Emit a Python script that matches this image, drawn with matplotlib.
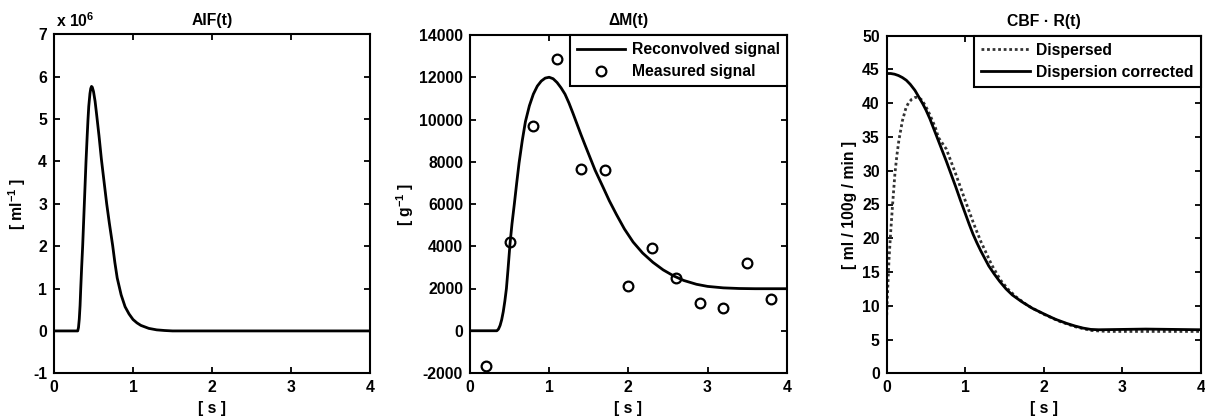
import matplotlib
matplotlib.use("Agg")
import matplotlib.pyplot as plt

plt.rcParams['font.family'] = ['Liberation Sans', 'DejaVu Sans']
plt.rcParams['font.weight'] = 'bold'
plt.rcParams['font.size'] = 11.3
plt.rcParams['axes.unicode_minus'] = False
plt.rcParams['mathtext.fontset'] = 'custom'
plt.rcParams['mathtext.rm'] = 'Liberation Sans:bold'
plt.rcParams['mathtext.bf'] = 'Liberation Sans:bold'
plt.rcParams['mathtext.it'] = 'Liberation Sans:bold'
plt.rcParams['mathtext.default'] = 'rm'

FS = 11.3

# --- Arterial input function (units of 1e6 per ml) ---
aif_t = [0.0, 0.30, 0.31, 0.32, 0.33, 0.338, 0.35, 0.363, 0.384, 0.405, 0.42,
         0.43, 0.44, 0.455, 0.465, 0.475, 0.485, 0.50, 0.52, 0.54, 0.57, 0.60,
         0.635, 0.667, 0.70, 0.743, 0.77, 0.80, 0.85, 0.90, 0.95, 1.0, 1.05,
         1.1, 1.2, 1.3, 1.4, 1.5, 4.0]
aif_e6 = [0.0, 0.0, 0.08, 0.28, 0.6, 0.98, 1.5, 2.01, 3.0, 3.99, 4.6,
          4.98, 5.3, 5.6, 5.72, 5.77, 5.75, 5.65, 5.42, 5.1, 4.6, 4.05,
          3.5, 3.0, 2.55, 2.01, 1.62, 1.25, 0.85, 0.57, 0.40, 0.27, 0.19,
          0.13, 0.06, 0.025, 0.01, 0.0, 0.0]

# --- Tissue signal ---
dm_t = [0.0, 0.34, 0.36, 0.38, 0.40, 0.42, 0.44, 0.46, 0.48, 0.505, 0.53, 0.56,
        0.59, 0.62, 0.66, 0.70, 0.75, 0.80, 0.85, 0.90, 0.95, 1.0, 1.05, 1.1,
        1.15, 1.2, 1.25, 1.3, 1.35, 1.4, 1.45, 1.5, 1.58, 1.68, 1.76, 1.85,
        1.95, 2.06, 2.18, 2.31, 2.44, 2.57, 2.7, 2.86, 3.0, 3.2, 3.4, 3.6, 4.0]
dm_fit = [0, 0, 80, 250, 520, 900, 1400, 2000, 2900, 4100, 5050, 6000,
          7000, 7950, 9000, 9900, 10650, 11200, 11580, 11820, 11960, 12000,
          11930, 11750, 11500, 11200, 10780, 10300, 9800, 9300, 8820, 8350,
          7600, 6800, 6150, 5500, 4820, 4200, 3680, 3240, 2880, 2600, 2380,
          2200, 2100, 2030, 2000, 1990, 1990]
meas_t = [0.2, 0.5, 0.8, 1.1, 1.4, 1.7, 2.0, 2.3, 2.6, 2.9, 3.2, 3.5, 3.8]
meas_val = [-1650, 4200, 9700, 12850, 7680, 7600, 2100, 3940, 2500, 1330, 1060,
            3230, 1500]

# --- Scaled residue functions ---
disp_t = [0.0, 0.007, 0.015, 0.03, 0.05, 0.075, 0.105, 0.13, 0.155, 0.2, 0.245,
          0.28, 0.32, 0.36, 0.40, 0.445, 0.49, 0.55, 0.62, 0.66, 0.76, 0.88,
          1.0, 1.11, 1.2, 1.34, 1.45, 1.55, 1.65, 1.8, 2.0, 2.2, 2.4, 2.6, 2.8,
          3.0, 4.0]
disp_val = [8.6, 11.0, 13.0, 17.0, 20.8, 25.0, 29.6, 32.3, 34.5, 37.4, 39.3,
            40.1, 40.6, 40.85, 40.9, 40.5, 39.7, 38.3, 36.4, 34.9, 33.2, 29.5,
            25.6, 22.1, 19.5, 16.0, 13.8, 12.4, 11.3, 10.0, 8.75, 7.7, 6.9,
            6.35, 6.2, 6.2, 6.2]
corr_t = [0.0, 0.05, 0.1, 0.15, 0.2, 0.25, 0.3, 0.36, 0.415, 0.46, 0.5, 0.55,
          0.6, 0.65, 0.7, 0.76, 0.82, 0.88, 0.94, 1.0, 1.05, 1.1, 1.15, 1.2,
          1.3, 1.37, 1.44, 1.52, 1.6, 1.72, 1.86, 2.02, 2.15, 2.29, 2.4, 2.5,
          2.6, 2.7, 3.0, 3.3, 4.0]
corr_val = [44.4, 44.4, 44.3, 44.1, 43.8, 43.4, 42.8, 41.9, 40.8, 39.9, 39.0,
            37.7, 36.2, 34.7, 33.2, 31.4, 29.5, 27.6, 25.6, 23.7, 22.1, 20.6,
            19.3, 18.1, 15.9, 14.7, 13.6, 12.5, 11.6, 10.6, 9.6, 8.7, 8.0, 7.4,
            7.0, 6.7, 6.5, 6.45, 6.5, 6.55, 6.45]

W, H = 1205, 417
fig = plt.figure(figsize=(W / 100, H / 100), dpi=100)


def make_axes(left, right, top, bottom):
    return fig.add_axes([left / W, 1 - bottom / H, (right - left) / W,
                         (bottom - top) / H])


def style(ax):
    for s in ax.spines.values():
        s.set_linewidth(1.5)
    ax.tick_params(direction='in', length=4, width=1.3, top=True, right=True,
                   labelsize=FS, pad=5)
    for lab in ax.get_xticklabels() + ax.get_yticklabels():
        lab.set_fontweight('bold')


def add_legend(ax):
    leg = ax.legend(loc='upper right', borderaxespad=0, fancybox=False,
                    edgecolor='black', framealpha=1, handlelength=3.1,
                    handletextpad=0.4, borderpad=0.45, labelspacing=0.45,
                    prop={'weight': 'bold', 'size': FS})
    leg.get_frame().set_linewidth(1.5)


ax1 = make_axes(54, 370, 34.3, 373.3)
ax1.plot(aif_t, aif_e6, color='black', lw=2)
ax1.set_xlim(0, 4)
ax1.set_ylim(-1, 7)
ax1.set_xticks([0, 1, 2, 3, 4])
ax1.set_yticks(range(-1, 8))
ax1.set_title('AIF(t)', fontsize=FS, fontweight='bold', pad=7)
ax1.set_xlabel('[ s ]', fontsize=FS, fontweight='bold', labelpad=4)
ax1.set_ylabel('[ ml$^{-1}$ ]', fontsize=FS, fontweight='bold')
ax1.yaxis.set_label_coords(-0.082, 0.5)
ax1.text(0.005, 1.012, 'x 10$^{6}$', transform=ax1.transAxes,
         ha='left', va='bottom', fontsize=FS, fontweight='bold')
style(ax1)

ax2 = make_axes(470, 786.7, 35, 373)
ax2.plot(dm_t, dm_fit, color='black', lw=2, label='Reconvolved signal')
ax2.plot(meas_t, meas_val, linestyle='none', marker='o', ms=7, mfc='none',
         mec='black', mew=1.6, label='Measured signal')
ax2.set_xlim(0, 4)
ax2.set_ylim(-2000, 14000)
ax2.set_xticks([0, 1, 2, 3, 4])
ax2.set_yticks(range(-2000, 14001, 2000))
ax2.set_title('\u0394M(t)', fontsize=FS, fontweight='bold', pad=7)
ax2.set_xlabel('[ s ]', fontsize=FS, fontweight='bold', labelpad=4)
ax2.set_ylabel('[ g$^{-1}$ ]', fontsize=FS, fontweight='bold')
ax2.yaxis.set_label_coords(-0.17, 0.5)
add_legend(ax2)
style(ax2)

ax3 = make_axes(886.7, 1200.7, 35.7, 373.3)
ax3.plot(disp_t, disp_val, color='#333333', lw=2, linestyle=(0, (1, 1)),
         label='Dispersed')
ax3.plot(corr_t, corr_val, color='black', lw=2, label='Dispersion corrected')
ax3.set_xlim(0, 4)
ax3.set_ylim(0, 50)
ax3.set_xticks([0, 1, 2, 3, 4])
ax3.set_yticks(range(0, 51, 5))
ax3.set_title('CBF \u00b7 R(t)', fontsize=FS, fontweight='bold', pad=7)
ax3.set_xlabel('[ s ]', fontsize=FS, fontweight='bold', labelpad=4)
ax3.set_ylabel('[ ml / 100g / min ]', fontsize=FS, fontweight='bold')
ax3.yaxis.set_label_coords(-0.095, 0.5)
add_legend(ax3)
style(ax3)

fig.savefig('out.png', dpi=100)
